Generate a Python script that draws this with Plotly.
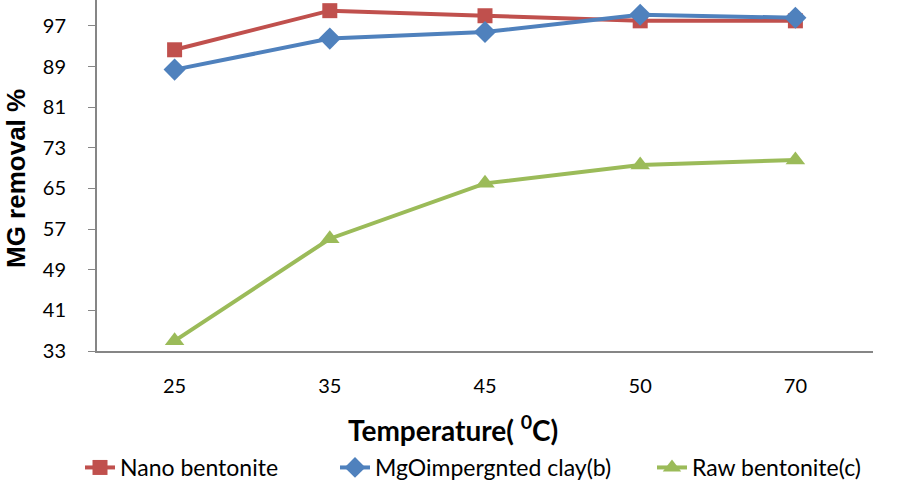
import plotly.graph_objects as go

categories = ["25", "35", "45", "50", "70"]
nano = [92.3, 100.0, 99.0, 98.0, 98.0]
mgo = [88.4, 94.5, 95.8, 99.2, 98.6]
raw = [35.0, 55.1, 66.0, 69.6, 70.6]
y_ticks = [33, 41, 49, 57, 65, 73, 81, 89, 97]
x_title = "<b>Temperature( <sup>0</sup>C)</b>"
y_title = "<b>MG removal %</b>"

FONT = "Lato"

fig = go.Figure()
fig.add_trace(go.Scatter(x=categories, y=nano, name="Nano bentonite", mode="lines+markers",
                         line=dict(color="#C0504D", width=4), legend="legend",
                         marker=dict(symbol="square", size=15, color="#C0504D")))
fig.add_trace(go.Scatter(x=categories, y=mgo, name="MgOimpergnted clay(b)", mode="lines+markers",
                         line=dict(color="#4F81BD", width=4), legend="legend2",
                         marker=dict(symbol="diamond", size=17, color="#4F81BD")))
fig.add_trace(go.Scatter(x=categories, y=raw, name="Raw bentonite(c)", mode="lines+markers",
                         line=dict(color="#9BBB59", width=4), legend="legend3",
                         marker=dict(symbol="triangle-up", size=17, color="#9BBB59")))
for t in fig.data:
    t.cliponaxis = False

leg_common = dict(orientation="h", xanchor="left", y=-0.333, yanchor="middle",
                  font=dict(size=23), bgcolor="rgba(0,0,0,0)")

fig.update_layout(
    width=898, height=489,
    margin=dict(l=97, r=25, t=0, b=136),
    paper_bgcolor="white", plot_bgcolor="white",
    font=dict(family=FONT, size=20, color="black"),
    showlegend=True,
    legend=dict(x=-0.0219, **leg_common),
    legend2=dict(x=0.3067, **leg_common),
    legend3=dict(x=0.7152, **leg_common),
    xaxis=dict(type="category", range=[-0.5, 4.5], showline=True, linecolor="#868686", linewidth=2,
               showgrid=False, ticks="", tickfont=dict(size=20), ticklabelstandoff=16),
    yaxis=dict(range=[33, 102.1], tickvals=y_ticks, showline=True, linecolor="#868686", linewidth=2,
               showgrid=False, ticks="outside", ticklen=7, tickcolor="#868686", tickfont=dict(size=20),
               ticklabelstandoff=18, zeroline=False),
    annotations=[
        dict(text=x_title, xref="paper", yref="paper", x=0.4588, y=-0.221,
             xanchor="center", yanchor="middle", showarrow=False,
             font=dict(family=FONT, size=28, color="black")),
        dict(text=y_title, xref="paper", yref="paper", x=-0.125, y=0.49,
             xanchor="left", yanchor="middle", showarrow=False, textangle=-90, borderpad=0,
             font=dict(family="Liberation Sans", size=26, color="black")),
    ],
)

fig.write_html("out.html", config={"displayModeBar": False},
               post_script="document.body.style.margin='0';document.body.style.padding='0';")
